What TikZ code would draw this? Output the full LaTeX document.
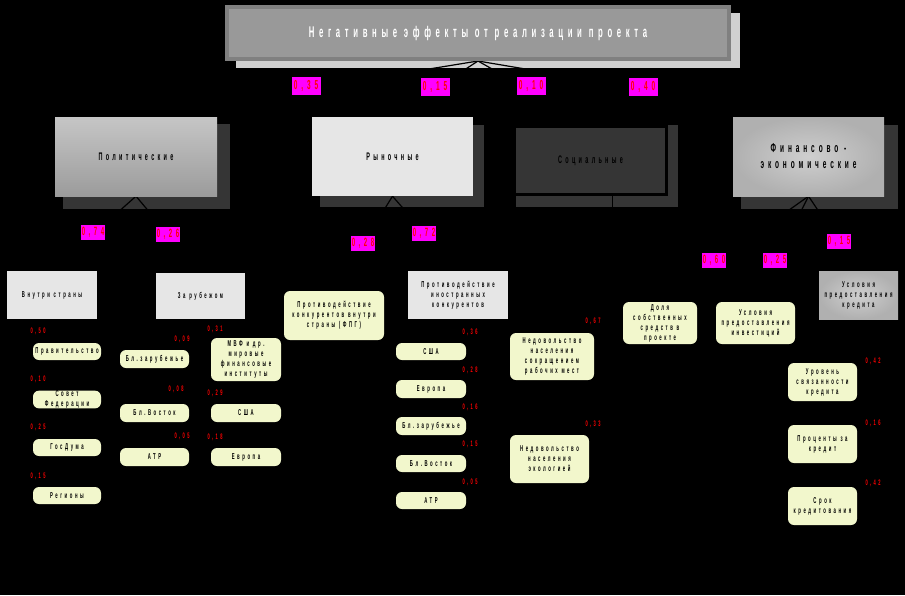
\documentclass[tikz,border=0pt]{standalone}
\usepackage{fontspec}
\setmainfont{Liberation Sans}[FakeStretch=0.5,LetterSpace=30]
\usepackage{tikz}
\definecolor{pale}{HTML}{F2F7CC}
\definecolor{boxgrey}{HTML}{E6E6E6}
\definecolor{darkgrey}{HTML}{353535}
\definecolor{titlegrey}{HTML}{999999}
\definecolor{titleframe}{HTML}{808080}
\definecolor{lightshadow}{HTML}{D0D0D0}
\definecolor{tagpink}{HTML}{FF00FF}
\pgfdeclarelayer{background}
\pgfdeclarelayer{edges}
\pgfsetlayers{background,edges,main}

\begin{document}
\begin{tikzpicture}[x=1pt, y=-1pt,
		link/.style={black, line width=1.2pt},
		cat/.style={inner sep=0pt, align=center, font=\fontsize{11}{14}\selectfont\bfseries},
		grp/.style={fill=boxgrey, inner sep=0pt, align=center, font=\fontsize{8.5}{10}\selectfont\bfseries},
		item/.style={fill=pale, rounded corners=6pt, inner sep=0pt, align=center, font=\fontsize{8.5}{10}\selectfont\bfseries},
		wt/.style={text=red, inner sep=0pt, font=\fontsize{8}{8}\selectfont\bfseries},
		tag/.style={fill=tagpink, text=red, inner sep=0pt, minimum width=24, minimum height=15, font=\fontsize{12}{12}\selectfont\bfseries}]
		\useasboundingbox (0,0) rectangle (905,595);

		% top
		\node[fill=titlegrey, draw=titleframe, line width=4pt, minimum width=502, minimum height=52, text=white, font=\fontsize{15.5}{15.5}\selectfont\bfseries] (neg) at (478,33) {Негативные эффекты от реализации проекта};

		% groups of effects
		\node[cat, top color=gray!45, bottom color=gray!78, minimum width=162, minimum height=79] (pol) at (136,156.5) {Политические};
		\node[cat, fill=boxgrey, minimum width=161, minimum height=79] (ryn) at (392.5,156.5) {Рыночные};
		\node[cat, fill=darkgrey, draw=black, line width=3pt, minimum width=152, minimum height=68] (soc) at (590.5,160.5) {Социальные};
		\node[cat, shading=radial, inner color=gray!38, outer color=gray!62, minimum width=151, minimum height=79, font=\fontsize{13}{16}\selectfont\bfseries] (fin) at (808.5,156.5) {Финансово -\\экономические};

		% second level
		\node[grp, minimum width=90, minimum height=48] (vnut) at (52,295) {Внутри страны};
		\node[grp, minimum width=89, minimum height=46] (zar) at (200.5,296) {За рубежом};
		\node[item, minimum width=100, minimum height=49] (fpg) at (334,315.5) {Противодействие\\конкурентов внутри\\страны (ФПГ)};
		\node[grp, minimum width=100, minimum height=48] (inkon) at (458,295) {Противодействие\\иностранных\\конкурентов};
		\node[item, minimum width=84, minimum height=47] (nedA) at (552,356.5) {Недовольство\\населения\\сокращением\\рабочих мест};
		\node[item, minimum width=79, minimum height=48] (nedB) at (549.5,459) {Недовольство\\населения\\экологией};
		\node[item, minimum width=74, minimum height=42] (dolya) at (660,323) {Доля\\собственных\\средств в\\проекте};
		\node[item, minimum width=79, minimum height=42] (uinv) at (755.5,323) {Условия\\предоставления\\инвестиций};
		\node[grp, shading=radial, inner color=gray!38, outer color=gray!62, minimum width=79, minimum height=48] (ukred) at (858.5,295) {Условия\\предоставления\\кредита};

		% inside the country
		\node[item, minimum width=68, minimum height=17] (prav) at (67,351.5) {Правительство};
		\node[item, minimum width=68, minimum height=17] (sovfed) at (67,399.5) {Совет\\Федерации};
		\node[item, minimum width=68, minimum height=17] (gosd) at (67,447.5) {ГосДума};
		\node[item, minimum width=68, minimum height=17] (reg) at (67,495.5) {Регионы};

		% abroad
		\node[item, minimum width=69, minimum height=18] (blzA) at (154.5,359) {Бл.зарубежье};
		\node[item, minimum width=69, minimum height=18] (blvA) at (154.5,413) {Бл.Восток};
		\node[item, minimum width=69, minimum height=18] (atrA) at (154.5,457) {АТР};
		\node[item, minimum width=70, minimum height=43] (mvf) at (246,359.5) {МВФ и др.\\мировые\\финансовые\\институты};
		\node[item, minimum width=70, minimum height=18] (sshaA) at (246,413) {США};
		\node[item, minimum width=70, minimum height=18] (evrA) at (246,457) {Европа};

		% foreign competitors
		\node[item, minimum width=70, minimum height=17] (sshaB) at (431,351.5) {США};
		\node[item, minimum width=70, minimum height=18] (evrB) at (431,389) {Европа};
		\node[item, minimum width=70, minimum height=18] (blzB) at (431,426) {Бл.зарубежье};
		\node[item, minimum width=70, minimum height=17] (blvB) at (431,463.5) {Бл.Восток};
		\node[item, minimum width=70, minimum height=17] (atrB) at (431,500.5) {АТР};

		% credit
		\node[item, minimum width=69, minimum height=38] (usv) at (822.5,382) {Уровень\\связанности\\кредита};
		\node[item, minimum width=69, minimum height=38] (proc) at (822.5,444) {Проценты за\\кредит};
		\node[item, minimum width=69, minimum height=38] (srok) at (822.5,506) {Срок\\кредитования};

		% weights
		\node[tag, minimum width=29, minimum height=18, font=\fontsize{13}{13}\selectfont\bfseries] (tpol) at (306,86) {0,35};
		\node[tag, minimum width=29, minimum height=18, font=\fontsize{13}{13}\selectfont\bfseries] (tryn) at (435,87) {0,15};
		\node[tag, minimum width=29, minimum height=18, font=\fontsize{13}{13}\selectfont\bfseries] (tsoc) at (531,86) {0,10};
		\node[tag, minimum width=29, minimum height=18, font=\fontsize{13}{13}\selectfont\bfseries] (tfin) at (643,87) {0,40};
		\node[tag] (tvnut) at (93,232) {0,74};
		\node[tag] (tzar) at (168,234) {0,26};
		\node[tag] (tfpg) at (363,243) {0,28};
		\node[tag] (tinkon) at (424,233) {0,72};
		\node[tag] (tdolya) at (714,260) {0,60};
		\node[tag] (tuinv) at (775,260) {0,25};
		\node[tag] (tukred) at (839,241) {0,15};

		\node[wt] (wprav) at (38,331) {0,50};
		\node[wt] (wsovfed) at (38,379) {0,10};
		\node[wt] (wgosd) at (38,427) {0,25};
		\node[wt] (wreg) at (38,476) {0,15};
		\node[wt] (wblzA) at (182,339) {0,09};
		\node[wt] (wblvA) at (176,389) {0,08};
		\node[wt] (watrA) at (182,436) {0,05};
		\node[wt] (wmvf) at (215,329) {0,31};
		\node[wt] (wsshaA) at (215,393) {0,29};
		\node[wt] (wevrA) at (215,437) {0,18};
		\node[wt] (wsshaB) at (470,332) {0,36};
		\node[wt] (wevrB) at (470,370) {0,28};
		\node[wt] (wblzB) at (470,407) {0,16};
		\node[wt] (wblvB) at (470,444) {0,15};
		\node[wt] (watrB) at (470,482) {0,05};
		\node[wt] (wnedA) at (593,321) {0,67};
		\node[wt] (wnedB) at (593,424) {0,33};
		\node[wt] (wusv) at (873,361) {0,42};
		\node[wt] (wproc) at (873,423) {0,16};
		\node[wt] (wsrok) at (873,483) {0,42};

		% connectors, under the boxes
		\begin{pgfonlayer}{edges}
		\draw[link] (neg.south) -- (pol.north);
		\draw[link] (neg.south) -- (ryn.north);
		\draw[link] (neg.south) -- (soc.north);
		\draw[link] (neg.south) -- (fin.north);
		\draw[link] (pol.south) -- (vnut.north);
		\draw[link] (pol.south) -- (zar.north);
		\draw[link] (ryn.south) -- (fpg.north);
		\draw[link] (ryn.south) -- (inkon.north);
		\draw[link] ([xshift=22pt]soc.south) |- (nedA.east);
		\draw[link] ([xshift=22pt]soc.south) |- (nedB.east);
		\draw[link] (fin.south) -- (dolya.north);
		\draw[link] (fin.south) -- (uinv.north);
		\draw[link] (fin.south) -- (ukred.north);
		\end{pgfonlayer}

		% background and shadows
		\begin{pgfonlayer}{background}
		\fill[black] (0,0) rectangle (905,595);
		\fill[lightshadow] ([shift={(11,8)}]neg.north west) rectangle ([shift={(9,7)}]neg.south east);
		\fill[darkgrey] ([shift={(8,7)}]pol.north west) rectangle ([shift={(13,13)}]pol.south east);
		\fill[darkgrey] ([shift={(8,8)}]ryn.north west) rectangle ([shift={(11,11)}]ryn.south east);
		\fill[darkgrey] ([shift={(3,0)}]soc.north west) rectangle ([shift={(10,11)}]soc.south east);
		\fill[darkgrey] ([shift={(8,8)}]fin.north west) rectangle ([shift={(14,13)}]fin.south east);
		\end{pgfonlayer}
\end{tikzpicture}
\end{document}
